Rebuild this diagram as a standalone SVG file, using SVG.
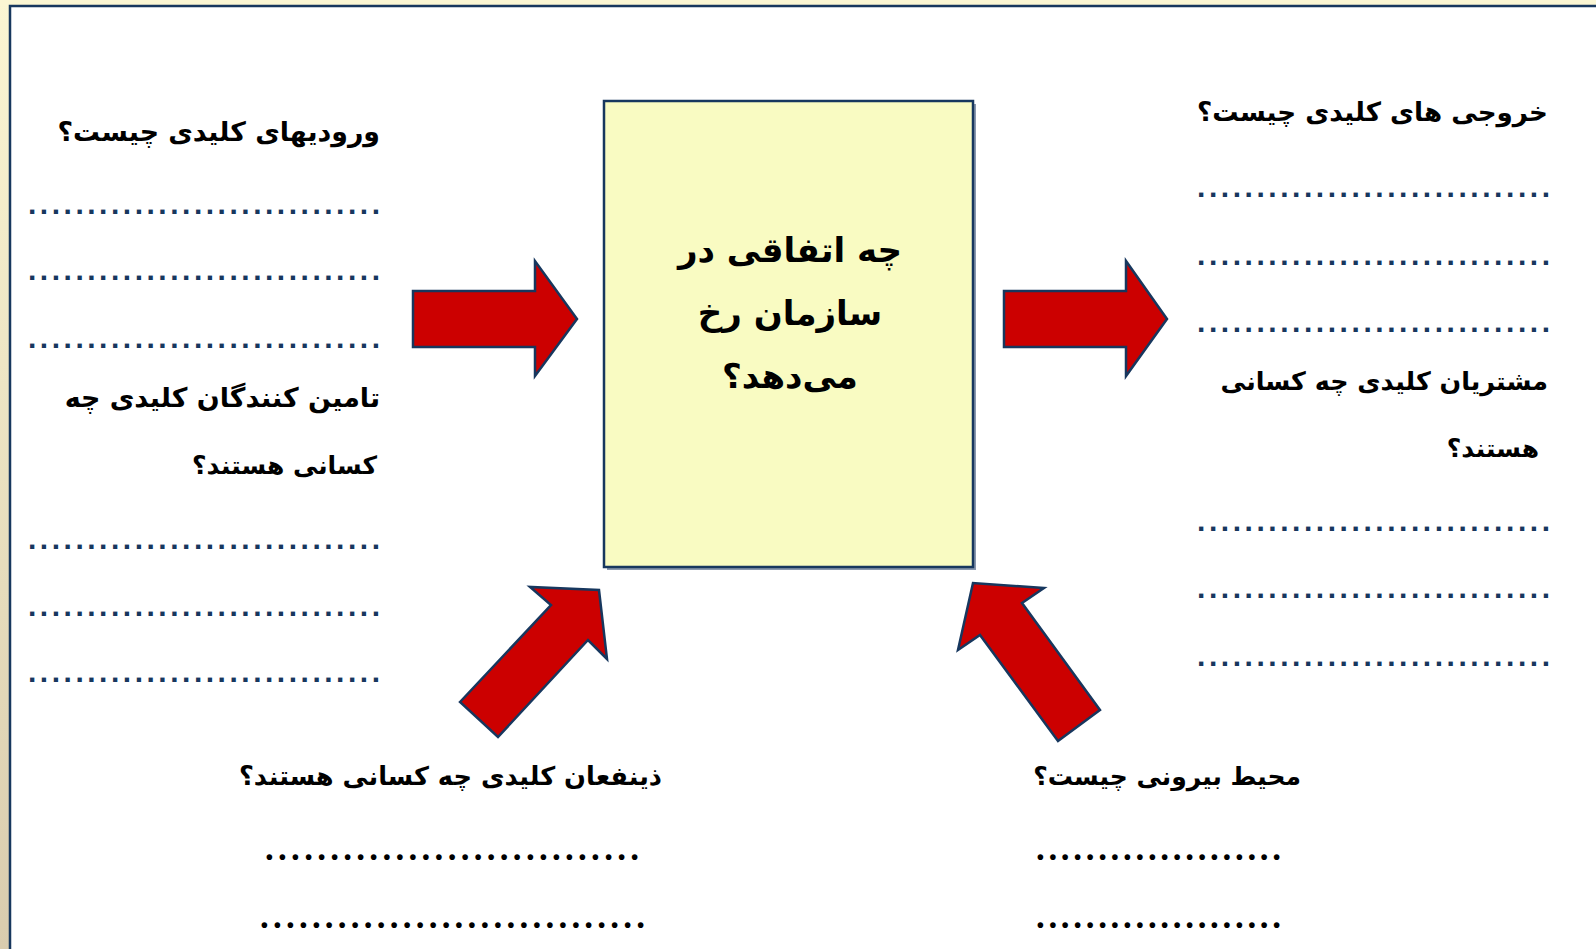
<svg xmlns="http://www.w3.org/2000/svg" width="1596" height="949" viewBox="0 0 1596 949">
<defs>
<linearGradient id="bgGrad" x1="0" y1="0" x2="0" y2="1">
<stop offset="0" stop-color="#fbf6d3"/>
<stop offset="1" stop-color="#d9ccae"/>
</linearGradient>
<style>
.arrow{fill:#cc0000;stroke:#17375e;stroke-width:2.5;stroke-linejoin:miter}
.fa{font-family:"DejaVu Sans",sans-serif;font-weight:bold;fill:#000;direction:rtl}
.h{font-size:26px}
.c{font-size:34px}
.bd{font-family:"Liberation Sans",sans-serif;font-weight:bold;font-size:30px;fill:#17375e}
.kd{font-family:"Liberation Serif",serif;font-weight:bold;font-size:35px;fill:#000}
</style>
</defs>
<rect x="0" y="0" width="1596" height="949" fill="url(#bgGrad)"/>
<rect x="0" y="0" width="1596" height="6" fill="#fbf6d3"/>
<rect x="10" y="6" width="1590" height="950" fill="#ffffff" stroke="#17375e" stroke-width="2.5"/>

<g id="connectors">
<polygon class="arrow" points="413,291 535,291 535,261 577,319 535,376 535,347 413,347"/>
<polygon class="arrow" points="1004,291 1126,291 1126,261 1167,319 1126,376 1126,347 1004,347"/>
<polygon class="arrow" points="460,702 551,605 530,587 599,590 607,659 588,640 498,737"/>
<polygon class="arrow" points="1100,710 1022,603 1044,588 973,583 958,650 980,635 1058,741"/>
</g>

<g id="center">
<rect x="607" y="104" width="369" height="466" fill="#8a98ae"/>
<rect x="604" y="101" width="369" height="466" fill="#f9fbc2" stroke="#17375e" stroke-width="2.5"/>
<text class="fa c" x="790" y="262" text-anchor="middle">چه اتفاقی در</text>
<text class="fa c" x="790" y="325" text-anchor="middle">سازمان رخ</text>
<text class="fa c" x="790" y="388" text-anchor="middle">می‌دهد؟</text>
</g>

<g id="inputs">
<text class="fa h" x="380" y="141" text-anchor="start" style="font-size:26.8px">ورودیهای کلیدی چیست؟</text>
<text class="bd" x="28" y="214" textLength="352" lengthAdjust="spacing">..............................</text>
<text class="bd" x="28" y="280" textLength="352" lengthAdjust="spacing">..............................</text>
<text class="bd" x="28" y="348" textLength="352" lengthAdjust="spacing">..............................</text>
</g>

<g id="suppliers">
<text class="fa h" x="380" y="407" text-anchor="start" style="font-size:26.9px">تامین کنندگان کلیدی چه</text>
<text class="fa h" x="377" y="474" text-anchor="start" style="font-size:25px">کسانی هستند؟</text>
<text class="bd" x="28" y="549" textLength="352" lengthAdjust="spacing">..............................</text>
<text class="bd" x="28" y="616" textLength="352" lengthAdjust="spacing">..............................</text>
<text class="bd" x="28" y="682" textLength="352" lengthAdjust="spacing">..............................</text>
</g>

<g id="outputs">
<text class="fa h" x="1548" y="121" text-anchor="start" style="font-size:26.2px">خروجی های کلیدی چیست؟</text>
<text class="bd" x="1197" y="197" textLength="353" lengthAdjust="spacing">..............................</text>
<text class="bd" x="1197" y="265" textLength="353" lengthAdjust="spacing">..............................</text>
<text class="bd" x="1197" y="332" textLength="353" lengthAdjust="spacing">..............................</text>
</g>

<g id="customers">
<text class="fa h" x="1548" y="390" text-anchor="start" style="font-size:25.4px">مشتریان کلیدی چه کسانی</text>
<text class="fa h" x="1539" y="457" text-anchor="start" style="font-size:25px">هستند؟</text>
<text class="bd" x="1197" y="531" textLength="353" lengthAdjust="spacing">..............................</text>
<text class="bd" x="1197" y="598" textLength="353" lengthAdjust="spacing">..............................</text>
<text class="bd" x="1197" y="666" textLength="353" lengthAdjust="spacing">..............................</text>
</g>

<g id="stakeholders">
<text class="fa h" x="662" y="785" text-anchor="start" style="font-size:25.7px">ذینفعان کلیدی چه کسانی هستند؟</text>
<text class="kd" x="265" y="860" textLength="374" lengthAdjust="spacing">.............................</text>
<text class="kd" x="260" y="928" textLength="385" lengthAdjust="spacing">..............................</text>
</g>

<g id="environment">
<text class="fa h" x="1301" y="785" text-anchor="start" style="font-size:25px">محیط بیرونی چیست؟</text>
<text class="kd" x="1036" y="860" textLength="245" lengthAdjust="spacing">....................</text>
<text class="kd" x="1036" y="928" textLength="245" lengthAdjust="spacing">....................</text>
</g>
</svg>
